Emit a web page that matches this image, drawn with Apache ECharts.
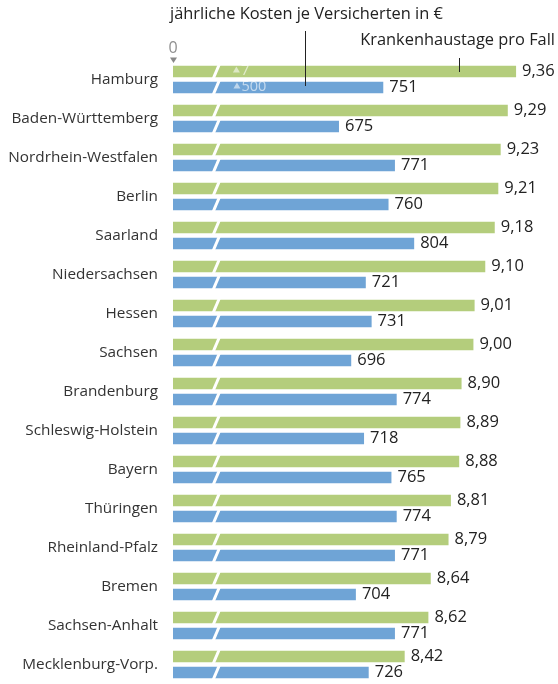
<!DOCTYPE html>
<html><head><meta charset="utf-8">
<script src="https://cdn.jsdelivr.net/npm/echarts@6/dist/echarts.min.js"></script>
<style>html,body{margin:0;padding:0;background:#fff}#c{width:558px;height:684px}</style>
</head><body><div id="c"></div>
<script>
const categories = ['Hamburg','Baden-Württemberg','Nordrhein-Westfalen','Berlin','Saarland','Niedersachsen','Hessen','Sachsen','Brandenburg','Schleswig-Holstein','Bayern','Thüringen','Rheinland-Pfalz','Bremen','Sachsen-Anhalt','Mecklenburg-Vorp.'];
const hospitalDays = [9.36,9.29,9.23,9.21,9.18,9.10,9.01,9.00,8.90,8.89,8.88,8.81,8.79,8.64,8.62,8.42];
const annualCosts = [751,675,771,760,804,721,731,696,774,718,765,774,771,704,771,726];
const daysTick = 7;
const costsTick = 500;
const daysTitle = 'Krankenhaustage pro Fall';
const costsTitle = 'jährliche Kosten je Versicherten in €';

const FONT = 'Open Sans';
const GREEN = '#b4cd7c';
const BLUE = '#6fa4d6';
// visible window of the two value scales (axis is broken between 0 and these mins)
const daysMin = 6.465, daysMax = 9.604;
const costsMin = 390.3, costsMax = 1028.4;
const daysBreakAt = 6.83;

const chart = echarts.init(document.getElementById('c'), null, {renderer: 'canvas'});
const labelStyle = {show: true, position: 'right', distance: 6, fontFamily: FONT, fontSize: 16.5, color: '#222'};

chart.setOption({
  animation: false,
  textStyle: {fontFamily: FONT},
  grid: {left: 173, top: 60, width: 372, height: 627, containLabel: false},
  yAxis: {
    type: 'category', data: categories, inverse: true,
    axisLine: {show: false}, axisTick: {show: false}, splitLine: {show: false},
    axisLabel: {fontFamily: FONT, fontSize: 15.3, color: '#333', margin: 15, padding: [0, 0, 3, 0]}
  },
  xAxis: [
    {type: 'value', min: daysMin, max: daysMax, show: false},
    {type: 'value', min: costsMin, max: costsMax, show: false}
  ],
  series: [
    {
      type: 'bar', xAxisIndex: 0, data: hospitalDays, barWidth: 11.5, barGap: '39%',
      itemStyle: {color: GREEN},
      label: Object.assign({}, labelStyle, {formatter: p => p.value.toFixed(2).replace('.', ',')}),
      markPoint: {
        symbol: 'triangle', symbolSize: [7, 6], symbolOffset: [0, -2],
        itemStyle: {color: 'rgba(255,255,255,0.55)'},
        label: {show: true, position: 'right', distance: 1, formatter: String(daysTick), color: 'rgba(255,255,255,0.6)', fontSize: 14.5, fontFamily: FONT, offset: [0, 1]},
        data: [{coord: [daysTick, 0]}]
      }
    },
    {
      type: 'bar', xAxisIndex: 1, data: annualCosts, barWidth: 11.5, barGap: '39%',
      itemStyle: {color: BLUE},
      label: Object.assign({}, labelStyle, {formatter: p => String(p.value)}),
      markPoint: {
        symbol: 'triangle', symbolSize: [7, 6], symbolOffset: [0, -2],
        itemStyle: {color: 'rgba(255,255,255,0.55)'},
        label: {show: true, position: 'right', distance: 1, formatter: String(costsTick), color: 'rgba(255,255,255,0.6)', fontSize: 14.5, fontFamily: FONT, offset: [0, 1]},
        data: [{coord: [costsTick, 0]}]
      }
    },
    {
      type: 'custom', xAxisIndex: 0, z: 10, silent: true,
      data: categories.map((c, i) => [daysBreakAt, i]),
      renderItem: (params, api) => {
        const p = api.coord([api.value(0), api.value(1)]);
        const children = [];
        [-8, 8].forEach(off => {
          const c = p[1] + off, h = 7, s = 3, w = 1.6;
          children.push({type: 'polygon', shape: {points: [[p[0]-w-s, c+h],[p[0]+w-s, c+h],[p[0]+w+s, c-h],[p[0]-w+s, c-h]]}, style: {fill: '#fff'}});
        });
        return {type: 'group', children};
      }
    }
  ],
  graphic: [
    {type: 'text', left: 170, top: 6, style: {text: costsTitle, fontFamily: FONT, fontSize: 16.4, fill: '#222'}},
    {type: 'line', shape: {x1: 305.5, y1: 31, x2: 305.5, y2: 86}, style: {stroke: '#222', lineWidth: 1}, z: 20},
    {type: 'text', right: 3, top: 32, style: {text: daysTitle, fontFamily: FONT, fontSize: 16.4, fill: '#222'}},
    {type: 'line', shape: {x1: 459.5, y1: 58, x2: 459.5, y2: 72}, style: {stroke: '#222', lineWidth: 1}, z: 20},
    {type: 'text', left: 168.5, top: 40, style: {text: '0', fontFamily: FONT, fontSize: 16, fill: '#8f8f8f'}},
    {type: 'polygon', shape: {points: [[170, 57.5], [177, 57.5], [173.5, 63]]}, style: {fill: '#888'}}
  ]
});
</script></body></html>
